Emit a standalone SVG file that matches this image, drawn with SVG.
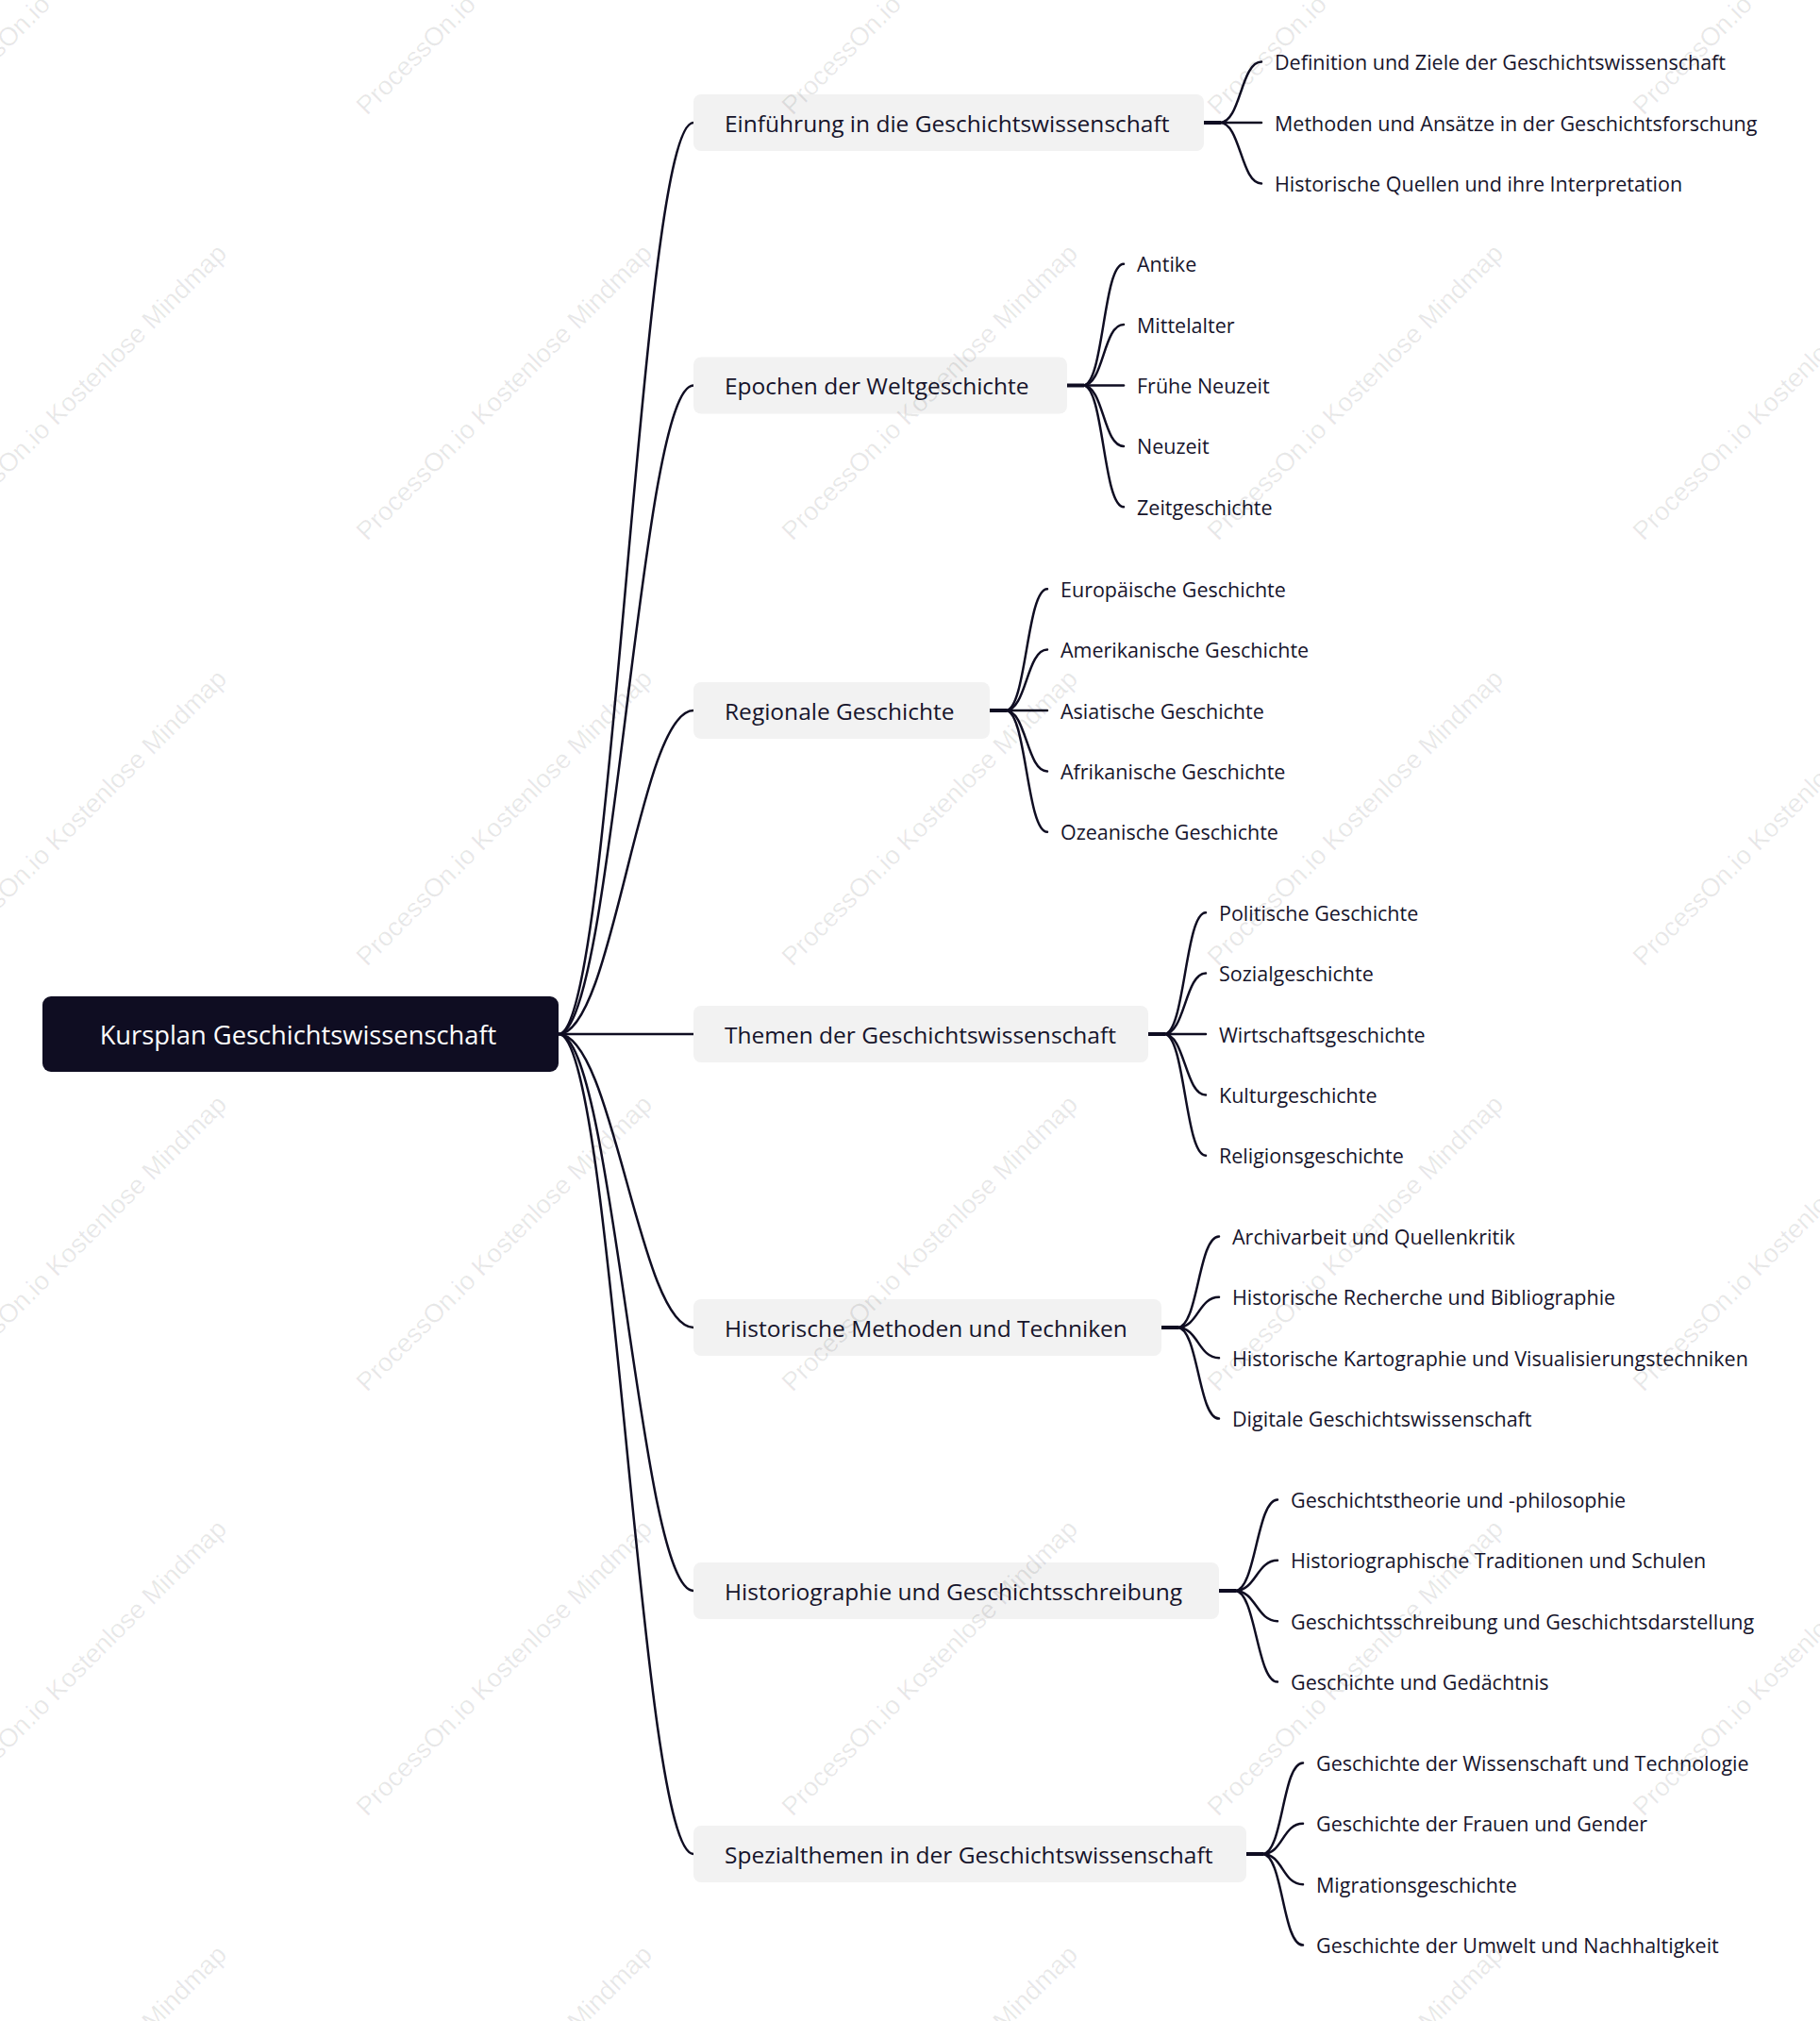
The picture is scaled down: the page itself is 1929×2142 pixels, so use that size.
<svg xmlns="http://www.w3.org/2000/svg" width="1929" height="2142" viewBox="0 0 1929 2142">
<style>
.bg{fill:#ffffff}
.root rect{fill:#0f0d22}
.root text{fill:#ffffff;font-family:"Open Sans","Noto Sans",sans-serif;font-size:27.3px;text-anchor:middle;dominant-baseline:central}
.l1 rect{fill:#f2f2f2}
.l1 text{fill:#16142b;font-family:"Open Sans","Noto Sans",sans-serif;font-size:24.5px;dominant-baseline:central}
.leaf text{fill:#16142b;font-family:"Open Sans","Noto Sans",sans-serif;font-size:21.5px;dominant-baseline:central}
.c path{fill:none;stroke:#0f0d22;stroke-width:2.5;stroke-linecap:round}
.c path.stub{stroke-width:4;stroke-linecap:butt}
.wm text{fill:#000;fill-opacity:0.09;font-family:"Liberation Sans",Arial,sans-serif;font-size:27.5px}
</style>
<rect class="bg" x="0" y="0" width="1929" height="2142"/>
<g id="connectors" class="c">
<path d="M592 1096 C650 1096,678 130,735 130"/>
<path d="M592 1096 C650 1096,678 408.5,735 408.5"/>
<path d="M592 1096 C650 1096,678 753,735 753"/>
<path d="M592 1096 L735 1096"/>
<path d="M592 1096 C650 1096,678 1407,735 1407"/>
<path d="M592 1096 C650 1096,678 1686,735 1686"/>
<path d="M592 1096 C650 1096,678 1965,735 1965"/>
<path class="stub" d="M1276 130 H1294"/>
<path d="M1293 130 C1315 130,1315 65.6,1337 65.6"/>
<path d="M1293 130 L1337 130"/>
<path d="M1293 130 C1315 130,1315 194.4,1337 194.4"/>
<path class="stub" d="M1131 408.5 H1149"/>
<path d="M1148 408.5 C1170 408.5,1169 279.7,1191 279.7"/>
<path d="M1148 408.5 C1170 408.5,1169 344.1,1191 344.1"/>
<path d="M1148 408.5 L1191 408.5"/>
<path d="M1148 408.5 C1170 408.5,1169 472.9,1191 472.9"/>
<path d="M1148 408.5 C1170 408.5,1169 537.3,1191 537.3"/>
<path class="stub" d="M1049 753 H1067"/>
<path d="M1066 753 C1088 753,1088 624.2,1110 624.2"/>
<path d="M1066 753 C1088 753,1088 688.6,1110 688.6"/>
<path d="M1066 753 L1110 753"/>
<path d="M1066 753 C1088 753,1088 817.4,1110 817.4"/>
<path d="M1066 753 C1088 753,1088 881.8,1110 881.8"/>
<path class="stub" d="M1217 1096 H1235"/>
<path d="M1234 1096 C1256 1096,1256 967.2,1278 967.2"/>
<path d="M1234 1096 C1256 1096,1256 1031.6,1278 1031.6"/>
<path d="M1234 1096 L1278 1096"/>
<path d="M1234 1096 C1256 1096,1256 1160.4,1278 1160.4"/>
<path d="M1234 1096 C1256 1096,1256 1224.8,1278 1224.8"/>
<path class="stub" d="M1231 1407 H1249"/>
<path d="M1248 1407 C1270 1407,1270 1310.4,1292 1310.4"/>
<path d="M1248 1407 C1270 1407,1270 1374.8,1292 1374.8"/>
<path d="M1248 1407 C1270 1407,1270 1439.2,1292 1439.2"/>
<path d="M1248 1407 C1270 1407,1270 1503.6,1292 1503.6"/>
<path class="stub" d="M1292 1686 H1310"/>
<path d="M1309 1686 C1331 1686,1332 1589.4,1354 1589.4"/>
<path d="M1309 1686 C1331 1686,1332 1653.8,1354 1653.8"/>
<path d="M1309 1686 C1331 1686,1332 1718.2,1354 1718.2"/>
<path d="M1309 1686 C1331 1686,1332 1782.6,1354 1782.6"/>
<path class="stub" d="M1321 1965 H1339"/>
<path d="M1338 1965 C1360 1965,1359 1868.4,1381 1868.4"/>
<path d="M1338 1965 C1360 1965,1359 1932.8,1381 1932.8"/>
<path d="M1338 1965 C1360 1965,1359 1997.2,1381 1997.2"/>
<path d="M1338 1965 C1360 1965,1359 2061.6,1381 2061.6"/>
</g>
<g id="root" class="root"><rect x="45" y="1056" width="547" height="80" rx="9"/><text x="316" y="1096">Kursplan Geschichtswissenschaft</text></g>
<g id="n1" class="l1"><rect x="735" y="100" width="541" height="60" rx="8"/><text x="768" y="130">Einführung in die Geschichtswissenschaft</text></g>
<g id="n2" class="l1"><rect x="735" y="378.5" width="396" height="60" rx="8"/><text x="768" y="408.5">Epochen der Weltgeschichte</text></g>
<g id="n3" class="l1"><rect x="735" y="723" width="314" height="60" rx="8"/><text x="768" y="753">Regionale Geschichte</text></g>
<g id="n4" class="l1"><rect x="735" y="1066" width="482" height="60" rx="8"/><text x="768" y="1096">Themen der Geschichtswissenschaft</text></g>
<g id="n5" class="l1"><rect x="735" y="1377" width="496" height="60" rx="8"/><text x="768" y="1407">Historische Methoden und Techniken</text></g>
<g id="n6" class="l1"><rect x="735" y="1656" width="557" height="60" rx="8"/><text x="768" y="1686">Historiographie und Geschichtsschreibung</text></g>
<g id="n7" class="l1"><rect x="735" y="1935" width="586" height="60" rx="8"/><text x="768" y="1965">Spezialthemen in der Geschichtswissenschaft</text></g>
<g id="leaves1" class="leaf">
<text x="1351" y="65.6">Definition und Ziele der Geschichtswissenschaft</text>
<text x="1351" y="130">Methoden und Ansätze in der Geschichtsforschung</text>
<text x="1351" y="194.4">Historische Quellen und ihre Interpretation</text>
</g>
<g id="leaves2" class="leaf">
<text x="1205" y="279.7">Antike</text>
<text x="1205" y="344.1">Mittelalter</text>
<text x="1205" y="408.5">Frühe Neuzeit</text>
<text x="1205" y="472.9">Neuzeit</text>
<text x="1205" y="537.3">Zeitgeschichte</text>
</g>
<g id="leaves3" class="leaf">
<text x="1124" y="624.2">Europäische Geschichte</text>
<text x="1124" y="688.6">Amerikanische Geschichte</text>
<text x="1124" y="753">Asiatische Geschichte</text>
<text x="1124" y="817.4">Afrikanische Geschichte</text>
<text x="1124" y="881.8">Ozeanische Geschichte</text>
</g>
<g id="leaves4" class="leaf">
<text x="1292" y="967.2">Politische Geschichte</text>
<text x="1292" y="1031.6">Sozialgeschichte</text>
<text x="1292" y="1096">Wirtschaftsgeschichte</text>
<text x="1292" y="1160.4">Kulturgeschichte</text>
<text x="1292" y="1224.8">Religionsgeschichte</text>
</g>
<g id="leaves5" class="leaf">
<text x="1306" y="1310.4">Archivarbeit und Quellenkritik</text>
<text x="1306" y="1374.8">Historische Recherche und Bibliographie</text>
<text x="1306" y="1439.2">Historische Kartographie und Visualisierungstechniken</text>
<text x="1306" y="1503.6">Digitale Geschichtswissenschaft</text>
</g>
<g id="leaves6" class="leaf">
<text x="1368" y="1589.4">Geschichtstheorie und -philosophie</text>
<text x="1368" y="1653.8">Historiographische Traditionen und Schulen</text>
<text x="1368" y="1718.2">Geschichtsschreibung und Geschichtsdarstellung</text>
<text x="1368" y="1782.6">Geschichte und Gedächtnis</text>
</g>
<g id="leaves7" class="leaf">
<text x="1395" y="1868.4">Geschichte der Wissenschaft und Technologie</text>
<text x="1395" y="1932.8">Geschichte der Frauen und Gender</text>
<text x="1395" y="1997.2">Migrationsgeschichte</text>
<text x="1395" y="2061.6">Geschichte der Umwelt und Nachhaltigkeit</text>
</g>
<g id="watermarks" class="wm">
<text transform="translate(-62 123) rotate(-45)">ProcessOn.io Kostenlose Mindmap</text>
<text transform="translate(389 123) rotate(-45)">ProcessOn.io Kostenlose Mindmap</text>
<text transform="translate(840 123) rotate(-45)">ProcessOn.io Kostenlose Mindmap</text>
<text transform="translate(1291 123) rotate(-45)">ProcessOn.io Kostenlose Mindmap</text>
<text transform="translate(1742 123) rotate(-45)">ProcessOn.io Kostenlose Mindmap</text>
<text transform="translate(-62 574) rotate(-45)">ProcessOn.io Kostenlose Mindmap</text>
<text transform="translate(389 574) rotate(-45)">ProcessOn.io Kostenlose Mindmap</text>
<text transform="translate(840 574) rotate(-45)">ProcessOn.io Kostenlose Mindmap</text>
<text transform="translate(1291 574) rotate(-45)">ProcessOn.io Kostenlose Mindmap</text>
<text transform="translate(1742 574) rotate(-45)">ProcessOn.io Kostenlose Mindmap</text>
<text transform="translate(-62 1025) rotate(-45)">ProcessOn.io Kostenlose Mindmap</text>
<text transform="translate(389 1025) rotate(-45)">ProcessOn.io Kostenlose Mindmap</text>
<text transform="translate(840 1025) rotate(-45)">ProcessOn.io Kostenlose Mindmap</text>
<text transform="translate(1291 1025) rotate(-45)">ProcessOn.io Kostenlose Mindmap</text>
<text transform="translate(1742 1025) rotate(-45)">ProcessOn.io Kostenlose Mindmap</text>
<text transform="translate(-62 1476) rotate(-45)">ProcessOn.io Kostenlose Mindmap</text>
<text transform="translate(389 1476) rotate(-45)">ProcessOn.io Kostenlose Mindmap</text>
<text transform="translate(840 1476) rotate(-45)">ProcessOn.io Kostenlose Mindmap</text>
<text transform="translate(1291 1476) rotate(-45)">ProcessOn.io Kostenlose Mindmap</text>
<text transform="translate(1742 1476) rotate(-45)">ProcessOn.io Kostenlose Mindmap</text>
<text transform="translate(-62 1926) rotate(-45)">ProcessOn.io Kostenlose Mindmap</text>
<text transform="translate(389 1926) rotate(-45)">ProcessOn.io Kostenlose Mindmap</text>
<text transform="translate(840 1926) rotate(-45)">ProcessOn.io Kostenlose Mindmap</text>
<text transform="translate(1291 1926) rotate(-45)">ProcessOn.io Kostenlose Mindmap</text>
<text transform="translate(1742 1926) rotate(-45)">ProcessOn.io Kostenlose Mindmap</text>
<text transform="translate(-62 2377) rotate(-45)">ProcessOn.io Kostenlose Mindmap</text>
<text transform="translate(389 2377) rotate(-45)">ProcessOn.io Kostenlose Mindmap</text>
<text transform="translate(840 2377) rotate(-45)">ProcessOn.io Kostenlose Mindmap</text>
<text transform="translate(1291 2377) rotate(-45)">ProcessOn.io Kostenlose Mindmap</text>
<text transform="translate(1742 2377) rotate(-45)">ProcessOn.io Kostenlose Mindmap</text>
</g>
</svg>
